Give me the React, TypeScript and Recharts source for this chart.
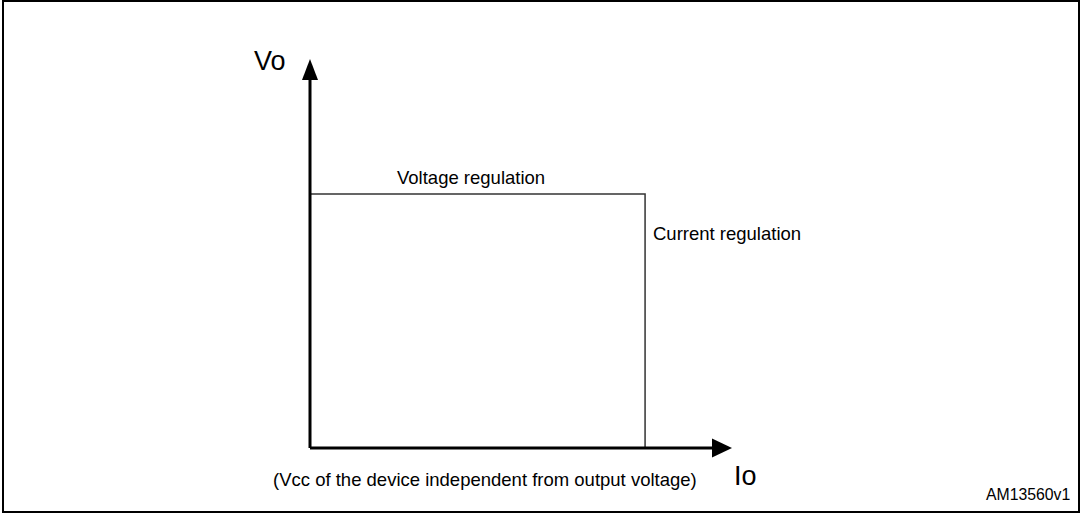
import { LineChart, Line, XAxis, YAxis, ReferenceLine, ReferenceDot } from 'recharts';

// operating envelope (arbitrary units, 0..100 on both axes)
const ioValues = [0, 79.4, 79.4];
const voValues = [65.3, 65.3, 0];

const axisEnd = 95.5;
const axisTip = 100;

const data = ioValues.map((io, i) => ({ io, vo: voValues[i] }));

const font = '"Liberation Sans", Arial, sans-serif';

const ArrowRight = (p: any) => (
  <polygon points={`${p.cx},${p.cy} ${p.cx - 20},${p.cy - 9.5} ${p.cx - 20},${p.cy + 9.5}`} fill="#000" />
);
const ArrowUp = (p: any) => (
  <polygon points={`${p.cx},${p.cy} ${p.cx - 8},${p.cy + 21} ${p.cx + 8},${p.cy + 21}`} fill="#000" />
);

export default function App() {
  return (
    <div style={{ position: 'absolute', left: 0, top: 0, width: 1080, height: 515, background: '#fff' }}>
      <div
        style={{
          position: 'absolute',
          left: 2,
          top: 0,
          width: 1078,
          height: 513,
          border: '2px solid #000',
          boxSizing: 'border-box',
        }}
      />
      <div style={{ position: 'absolute', left: 0, top: 0 }}>
        <LineChart width={1080} height={515} data={data} margin={{ top: 59, left: 310, right: 348, bottom: 67 }}>
          <XAxis dataKey="io" type="number" domain={[0, 100]} hide />
          <YAxis type="number" domain={[0, 100]} hide />
          <Line
            type="linear"
            dataKey="vo"
            stroke="#333"
            strokeWidth={1.5}
            dot={false}
            isAnimationActive={false}
          />
          <ReferenceLine
            segment={[{ x: 0, y: 0 }, { x: axisEnd, y: 0 }]}
            stroke="#000"
            strokeWidth={3}
            ifOverflow="visible"
          />
          <ReferenceLine
            segment={[{ x: 0, y: 0 }, { x: 0, y: 95 }]}
            stroke="#000"
            strokeWidth={3}
            ifOverflow="visible"
          />
          <ReferenceDot x={axisTip} y={0} shape={ArrowRight} ifOverflow="visible" />
          <ReferenceDot x={0} y={axisTip} shape={ArrowUp} ifOverflow="visible" />
          <text x={254} y={70} fontFamily={font} fontSize={27} fill="#000">Vo</text>
          <text x={734} y={485} fontFamily={font} fontSize={27} fill="#000">Io</text>
          <text x={397} y={184} fontFamily={font} fontSize={18.5} fill="#000">Voltage regulation</text>
          <text x={653} y={240} fontFamily={font} fontSize={18.5} fill="#000">Current regulation</text>
          <text x={273} y={486} fontFamily={font} fontSize={18.5} fill="#000">
            (Vcc of the device independent from output voltage)
          </text>
          <text x={986} y={500} fontFamily={font} fontSize={15.8} fill="#000">AM13560v1</text>
        </LineChart>
      </div>
    </div>
  );
}
